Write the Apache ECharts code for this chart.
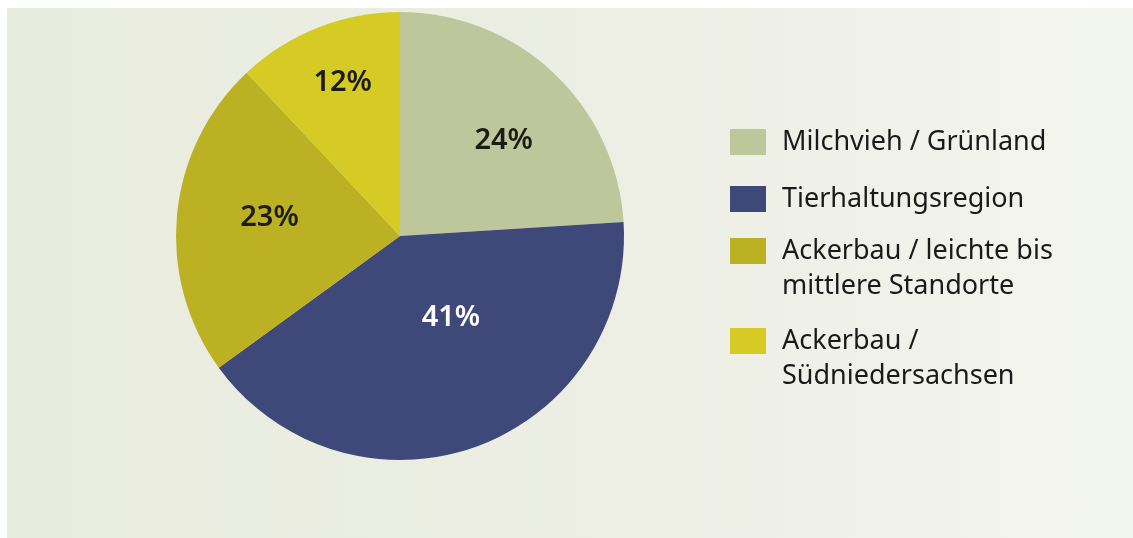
<!DOCTYPE html>
<html><head><meta charset="utf-8">
<script src="https://cdn.jsdelivr.net/npm/echarts@6/dist/echarts.min.js"></script>
<style>
html,body{margin:0;padding:0;background:#ffffff;width:1133px;height:538px;overflow:hidden;}
#frame{position:absolute;left:7px;top:8px;width:1126px;height:530px;background:linear-gradient(90deg,#e8ecde 0%,#eceee3 50%,#f3f5ef 100%);}
#chart{position:absolute;left:-7px;top:-8px;width:1133px;height:538px;}
</style></head>
<body><div id="frame"><div id="chart"></div></div>
<script>
const categories = ['Milchvieh / Grünland', 'Tierhaltungsregion', 'Ackerbau / leichte bis\nmittlere Standorte', 'Ackerbau /\nSüdniedersachsen'];
const values = [24, 41, 23, 12];
const colors = ['#bec79c', '#3e4979', '#bcb023', '#d6ca24'];
const labelColors = ['#1c1c14', '#ffffff', '#1c1c14', '#1c1c14'];
const labelOffsets = [[25, -11], [12, -26], [-16, -7], [-15, -46]];
const legendTops = [124.5, 181.5, 198.5, 288.5];

const chart = echarts.init(document.getElementById('chart'), null, {renderer: 'canvas'});
const FONT = 'Noto Sans';
const legends = categories.map((name, i) => {
  const multi = name.indexOf('\n') >= 0;
  return {
    orient: 'vertical',
    left: 730,
    top: legendTops[i],
    padding: 0,
    itemWidth: 36,
    itemHeight: 26,
    itemGap: 0,
    icon: 'rect',
    selectedMode: false,
    data: [name],
    formatter: n => (multi ? '{t|}\n' : '') + n.split('\n').map(s => '{t|' + s + '}').join('\n'),
    textStyle: {
      fontFamily: FONT, fontSize: 27, color: '#1a1a1a', lineHeight: 35,
      rich: {t: {fontFamily: FONT, fontSize: 27, color: '#1a1a1a', lineHeight: 35, padding: [0, 0, 0, 11]}}
    },
    itemStyle: {borderWidth: 0}
  };
});

chart.setOption({
  animation: false,
  backgroundColor: 'transparent',
  legend: legends,
  series: [{
    type: 'pie',
    center: [400, 236],
    radius: [0, 224],
    startAngle: 90,
    clockwise: true,
    silent: true,
    avoidLabelOverlap: false,
    itemStyle: {borderWidth: 0},
    label: {show: true, position: 'inside', formatter: '{d}%', fontFamily: FONT, fontSize: 29, fontWeight: 600},
    labelLine: {show: false},
    data: categories.map((name, i) => ({
      name: name,
      value: values[i],
      itemStyle: {color: colors[i]},
      label: {color: labelColors[i], offset: labelOffsets[i]}
    }))
  }]
});
</script></body></html>
